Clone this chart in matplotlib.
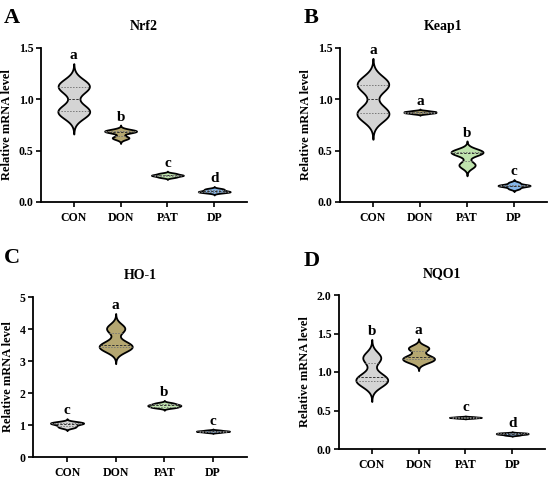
import numpy as np
import matplotlib
matplotlib.use("Agg")
import matplotlib.pyplot as plt

plt.rcParams['font.family'] = ['Liberation Serif', 'DejaVu Serif']
plt.rcParams['font.weight'] = 'bold'

groups = ["CON", "DON", "PAT", "DP"]
colors = ["#d4d4d4", "#b5a771", "#bfe3ad", "#86b6e8"]

# Nrf2
nrf2_con = [0.86, 0.88, 0.90, 1.10, 1.13, 1.15]
nrf2_don = [0.62, 0.63, 0.68, 0.69, 0.69, 0.70]
nrf2_pat = [0.24, 0.25, 0.26, 0.26, 0.27, 0.28]
nrf2_dp = [0.09, 0.10, 0.10, 0.11, 0.12, 0.13]
nrf2_letters = ["a", "b", "c", "d"]

# Keap1
keap1_con = [0.84, 0.86, 0.88, 1.12, 1.15, 1.17]
keap1_don = [0.86, 0.87, 0.87, 0.88, 0.88, 0.89]
keap1_pat = [0.35, 0.37, 0.47, 0.48, 0.49, 0.50]
keap1_dp = [0.13, 0.15, 0.16, 0.16, 0.17, 0.19]
keap1_letters = ["a", "a", "b", "c"]

# HO-1
ho1_con = [0.92, 0.97, 1.02, 1.05, 1.07, 1.10]
ho1_don = [3.35, 3.42, 3.48, 3.55, 3.98, 4.05]
ho1_pat = [1.54, 1.57, 1.60, 1.62, 1.65, 1.69]
ho1_dp = [0.77, 0.79, 0.80, 0.81, 0.82, 0.84]
ho1_letters = ["c", "a", "b", "c"]

# NQO1
nqo1_con = [0.84, 0.88, 0.91, 0.95, 1.17, 1.20]
nqo1_don = [1.13, 1.16, 1.18, 1.21, 1.30, 1.32]
nqo1_pat = [0.400, 0.405, 0.410, 0.410, 0.415, 0.420]
nqo1_dp = [0.180, 0.190, 0.195, 0.200, 0.205, 0.210]
nqo1_letters = ["b", "a", "c", "d"]


def kde(vals):
    v = np.array(vals, dtype=float)
    h = 0.65 * 1.06 * v.std(ddof=1) * len(v) ** (-0.2)
    y = np.linspace(v.min() - 3.0 * h, v.max() + 3.0 * h, 300)
    d = np.exp(-0.5 * ((y[:, None] - v[None, :]) / h) ** 2).sum(axis=1)
    return y, d / d.max()


def violins(ax, data, letters, title, ylim, yticks, yfmt):
    half = 0.34
    for i, vals in enumerate(data):
        y, d = kde(vals)
        w = d * half
        ax.fill_betweenx(y, i - w, i + w, facecolor=colors[i], edgecolor="black", linewidth=1.3, zorder=2)
        q1, med, q3 = np.percentile(vals, [25, 50, 75])
        for q, ls, c in [(q1, (0, (1.5, 1.5)), "#777777"), (med, (0, (2.5, 1.5)), "#333333"), (q3, (0, (1.5, 1.5)), "#777777")]:
            ww = np.interp(q, y, w)
            ax.plot([i - ww, i + ww], [q, q], linestyle=ls, color=c, linewidth=0.7, zorder=3)
        ax.annotate(letters[i], (i, y.max()), xytext=(0, 1), textcoords="offset points",
                    ha="center", va="bottom", fontsize=11, fontweight="bold")
    ax.set_xlim(-0.7, 3.7)
    ax.set_ylim(*ylim)
    ax.set_yticks(yticks)
    ax.set_yticklabels([yfmt.format(t) for t in yticks])
    ax.set_xticks(range(len(groups)))
    ax.set_xticklabels(groups)
    ax.set_title(title, fontsize=10, fontweight="bold", pad=13)
    ax.set_ylabel("Relative mRNA level", fontsize=9, fontweight="bold", labelpad=4)
    for s in ["top", "right"]:
        ax.spines[s].set_visible(False)
    for s in ["left", "bottom"]:
        ax.spines[s].set_linewidth(1.3)
    ax.tick_params(direction="out", length=3.5, width=1.2, labelsize=8.5, pad=2)
    ax.tick_params(axis="x", pad=4)


fig = plt.figure(figsize=(5.5, 4.79), dpi=100)
W, H = 550.0, 479.0


def add_axes(left, right, top, bottom):
    return fig.add_axes([left / W, 1 - bottom / H, (right - left) / W, (bottom - top) / H])


axA = add_axes(41, 247, 48, 202)
axB = add_axes(340, 547, 48, 202)
axC = add_axes(33, 247, 297, 457)
axD = add_axes(339, 545, 295, 449)

violins(axA, [nrf2_con, nrf2_don, nrf2_pat, nrf2_dp], nrf2_letters, "Nrf2", (0, 1.5), [0, 0.5, 1.0, 1.5], "{:.1f}")
violins(axB, [keap1_con, keap1_don, keap1_pat, keap1_dp], keap1_letters, "Keap1", (0, 1.5), [0, 0.5, 1.0, 1.5], "{:.1f}")
violins(axC, [ho1_con, ho1_don, ho1_pat, ho1_dp], ho1_letters, "HO-1", (0, 5), [0, 1, 2, 3, 4, 5], "{:.0f}")
violins(axD, [nqo1_con, nqo1_don, nqo1_pat, nqo1_dp], nqo1_letters, "NQO1", (0, 2.0), [0, 0.5, 1.0, 1.5, 2.0], "{:.1f}")

for lab, x, y in [("A", 4, 8), ("B", 304, 8), ("C", 4, 248), ("D", 304, 251)]:
    fig.text(x / W, 1 - y / H, lab, fontsize=16, fontweight="bold", ha="left", va="top")

fig.savefig("out.png", dpi=100)
